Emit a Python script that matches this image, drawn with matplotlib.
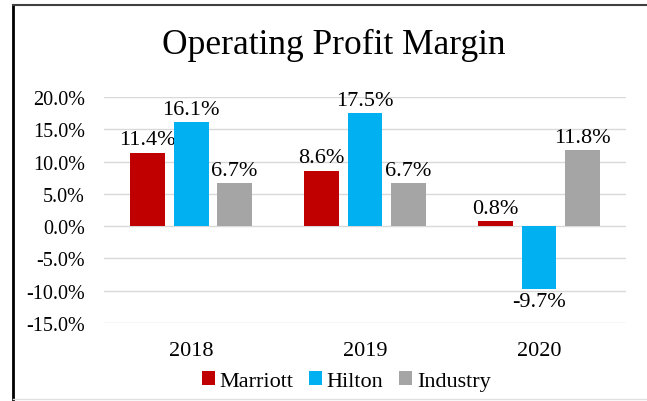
import numpy as np
import matplotlib.pyplot as plt
from matplotlib.lines import Line2D
from matplotlib.ticker import FuncFormatter

plt.rcParams['font.family'] = ['Liberation Serif', 'DejaVu Serif']

# ---- data ----
years = ['2018', '2019', '2020']
series_names = ['Marriott', 'Hilton', 'Industry']
marriott = [11.4, 8.6, 0.8]
hilton = [16.1, 17.5, -9.7]
industry = [6.7, 6.7, 11.8]
colors = ['#C00000', '#00B0F0', '#A5A5A5']

fig = plt.figure(figsize=(6.47, 4.02), dpi=100)
ax = fig.add_axes([0.161, 0.194, 0.8065, 0.562])

x = np.arange(len(years))
w = 0.2
step = 0.25
for i, (vals, name, c) in enumerate(zip([marriott, hilton, industry], series_names, colors)):
    pos = x + (i - 1) * step
    ax.bar(pos, vals, width=w, color=c, label=name, zorder=3)
    for px, v in zip(pos, vals):
        if v >= 0:
            ax.text(px, v + 0.5, f'{v:.1f}%', ha='center', va='bottom', fontsize=16)
        else:
            ax.text(px, v - 0.5, f'{v:.1f}%', ha='center', va='top', fontsize=16)

ax.set_xlim(-0.5, 2.5)
ax.set_ylim(-15, 20)
ax.set_yticks(np.arange(-15, 20.1, 5))
ax.yaxis.set_major_formatter(FuncFormatter(lambda v, p: f'{v:.1f}%'))
ax.set_xticks(x)
ax.set_xticklabels(years)
ax.tick_params(axis='both', length=0)
ax.tick_params(axis='y', pad=14, labelsize=14.5)
ax.tick_params(axis='x', pad=13, labelsize=16)
ax.grid(axis='y', color='#D9D9D9', linewidth=1, zorder=0)
for s in ax.spines.values():
    s.set_visible(False)

fig.text(0.516, 0.888, 'Operating Profit Margin', ha='center', va='center', fontsize=25.5)

fig.legend(loc='center', bbox_to_anchor=(0.535, 0.05), ncol=3, frameon=False,
           fontsize=16, handlelength=0.6, handleheight=0.6, handletextpad=0.2,
           columnspacing=0.7)

# chart border
fig.add_artist(Line2D([0.02, 0.02], [0, 0.985], transform=fig.transFigure, color='black', lw=2))
fig.add_artist(Line2D([0.02, 1.0], [0.985, 0.985], transform=fig.transFigure, color='#404040', lw=1.5))
fig.add_artist(Line2D([0.02, 1.0], [0.004, 0.004], transform=fig.transFigure, color='#E0E0E0', lw=1))

fig.savefig('out.png', dpi=100)
